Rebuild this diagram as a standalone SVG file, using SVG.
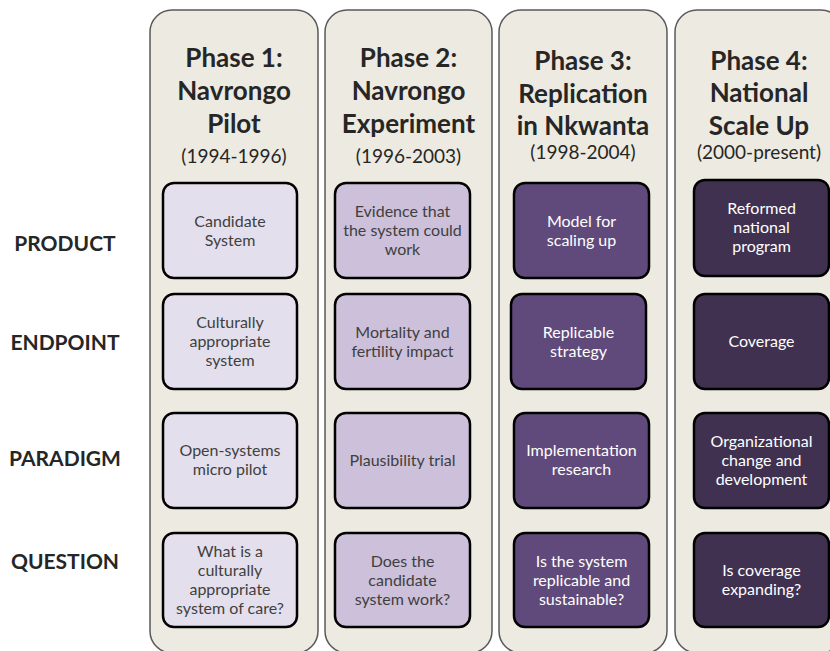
<svg xmlns="http://www.w3.org/2000/svg" width="830" height="651" viewBox="0 0 830 651">
<style>
.col{fill:#EDEAE1;stroke:#5a5a5a;stroke-width:1.5}
.box{stroke:#000;stroke-width:2.5}
.c1{fill:#E4DFEC}.c2{fill:#CCC0DA}.c3{fill:#604A7B}.c4{fill:#403151}
text{font-family:Lato,"Open Sans","Liberation Sans",sans-serif;text-anchor:middle}
.h{font-size:26px;font-weight:bold;fill:#262626}
.d{font-size:19px;fill:#262626}
.lab{font-size:21px;font-weight:bold;fill:#262626}
.t{font-size:16px}
.dk{fill:#3F3F3F}.lt{fill:#FFFFFF}
</style>
<rect width="830" height="651" fill="#FFFFFF"/>
<g id="row-labels">
<text class="lab" x="65" y="251">PRODUCT</text>
<text class="lab" x="65" y="350">ENDPOINT</text>
<text class="lab" x="65" y="466">PARADIGM</text>
<text class="lab" x="65" y="569">QUESTION</text>
</g>
<g id="phase1">
<rect class="col" x="150" y="10" width="168" height="643" rx="22"/>
<text class="h" x="234" y="67">Phase 1:</text>
<text class="h" x="234" y="100">Navrongo</text>
<text class="h" x="234" y="133">Pilot</text>
<text class="d" x="234" y="163">(1994-1996)</text>
</g>
<g id="phase2">
<rect class="col" x="325" y="10" width="167" height="643" rx="22"/>
<text class="h" x="408.5" y="67">Phase 2:</text>
<text class="h" x="408.5" y="100">Navrongo</text>
<text class="h" x="408.5" y="133">Experiment</text>
<text class="d" x="408.5" y="163">(1996-2003)</text>
</g>
<g id="phase3">
<rect class="col" x="499" y="10" width="168" height="643" rx="22"/>
<text class="h" x="583" y="70">Phase 3:</text>
<text class="h" x="583" y="103">Replication</text>
<text class="h" x="583" y="135">in Nkwanta</text>
<text class="d" x="583" y="159">(1998-2004)</text>
</g>
<g id="phase4">
<rect class="col" x="675" y="10" width="168" height="643" rx="22"/>
<text class="h" x="759" y="70">Phase 4:</text>
<text class="h" x="759" y="102">National</text>
<text class="h" x="759" y="135">Scale Up</text>
<text class="d" x="759" y="159">(2000-present)</text>
</g>
<g id="p1-product">
<rect class="box c1" x="163" y="183" width="134" height="95" rx="11"/>
<text class="t dk" x="230" y="226.5"><tspan x="230">Candidate</tspan><tspan x="230" dy="19">System</tspan></text>
</g>
<g id="p1-endpoint">
<rect class="box c1" x="163" y="294" width="134" height="95" rx="11"/>
<text class="t dk" x="230" y="328"><tspan x="230">Culturally</tspan><tspan x="230" dy="19">appropriate</tspan><tspan x="230" dy="19">system</tspan></text>
</g>
<g id="p1-paradigm">
<rect class="box c1" x="163" y="413" width="134" height="95" rx="11"/>
<text class="t dk" x="230" y="456"><tspan x="230">Open-systems</tspan><tspan x="230" dy="19">micro pilot</tspan></text>
</g>
<g id="p1-question">
<rect class="box c1" x="163" y="533" width="134" height="94" rx="11"/>
<text class="t dk" x="230" y="557"><tspan x="230">What is a</tspan><tspan x="230" dy="19">culturally</tspan><tspan x="230" dy="19">appropriate</tspan><tspan x="230" dy="19">system of care?</tspan></text>
</g>
<g id="p2-product">
<rect class="box c2" x="335" y="183" width="135" height="95" rx="11"/>
<text class="t dk" x="402.5" y="217"><tspan x="402.5">Evidence that</tspan><tspan x="402.5" dy="19">the system could</tspan><tspan x="402.5" dy="19">work</tspan></text>
</g>
<g id="p2-endpoint">
<rect class="box c2" x="335" y="294" width="135" height="95" rx="11"/>
<text class="t dk" x="402.5" y="337.5"><tspan x="402.5">Mortality and</tspan><tspan x="402.5" dy="19">fertility impact</tspan></text>
</g>
<g id="p2-paradigm">
<rect class="box c2" x="335" y="413" width="135" height="95" rx="11"/>
<text class="t dk" x="402.5" y="466">Plausibility trial</text>
</g>
<g id="p2-question">
<rect class="box c2" x="335" y="533" width="135" height="94" rx="11"/>
<text class="t dk" x="402.5" y="566.5"><tspan x="402.5">Does the</tspan><tspan x="402.5" dy="19">candidate</tspan><tspan x="402.5" dy="19">system work?</tspan></text>
</g>
<g id="p3-product">
<rect class="box c3" x="514" y="183" width="135" height="95" rx="11"/>
<text class="t lt" x="581.5" y="226.5"><tspan x="581.5">Model for</tspan><tspan x="581.5" dy="19">scaling up</tspan></text>
</g>
<g id="p3-endpoint">
<rect class="box c3" x="511" y="294" width="135" height="95" rx="11"/>
<text class="t lt" x="578.5" y="337.5"><tspan x="578.5">Replicable</tspan><tspan x="578.5" dy="19">strategy</tspan></text>
</g>
<g id="p3-paradigm">
<rect class="box c3" x="514" y="413" width="135" height="95" rx="11"/>
<text class="t lt" x="581.5" y="456"><tspan x="581.5">Implementation</tspan><tspan x="581.5" dy="19">research</tspan></text>
</g>
<g id="p3-question">
<rect class="box c3" x="514" y="533" width="135" height="94" rx="11"/>
<text class="t lt" x="581.5" y="566.5"><tspan x="581.5">Is the system</tspan><tspan x="581.5" dy="19">replicable and</tspan><tspan x="581.5" dy="19">sustainable?</tspan></text>
</g>
<g id="p4-product">
<rect class="box c4" x="694" y="180" width="135" height="96" rx="11"/>
<text class="t lt" x="761.5" y="214"><tspan x="761.5">Reformed</tspan><tspan x="761.5" dy="19">national</tspan><tspan x="761.5" dy="19">program</tspan></text>
</g>
<g id="p4-endpoint">
<rect class="box c4" x="694" y="294" width="135" height="95" rx="11"/>
<text class="t lt" x="761.5" y="347">Coverage</text>
</g>
<g id="p4-paradigm">
<rect class="box c4" x="694" y="413" width="135" height="95" rx="11"/>
<text class="t lt" x="761.5" y="447"><tspan x="761.5">Organizational</tspan><tspan x="761.5" dy="19">change and</tspan><tspan x="761.5" dy="19">development</tspan></text>
</g>
<g id="p4-question">
<rect class="box c4" x="694" y="533" width="135" height="94" rx="11"/>
<text class="t lt" x="761.5" y="576"><tspan x="761.5">Is coverage</tspan><tspan x="761.5" dy="19">expanding?</tspan></text>
</g>
<g id="connectors"/>
</svg>
